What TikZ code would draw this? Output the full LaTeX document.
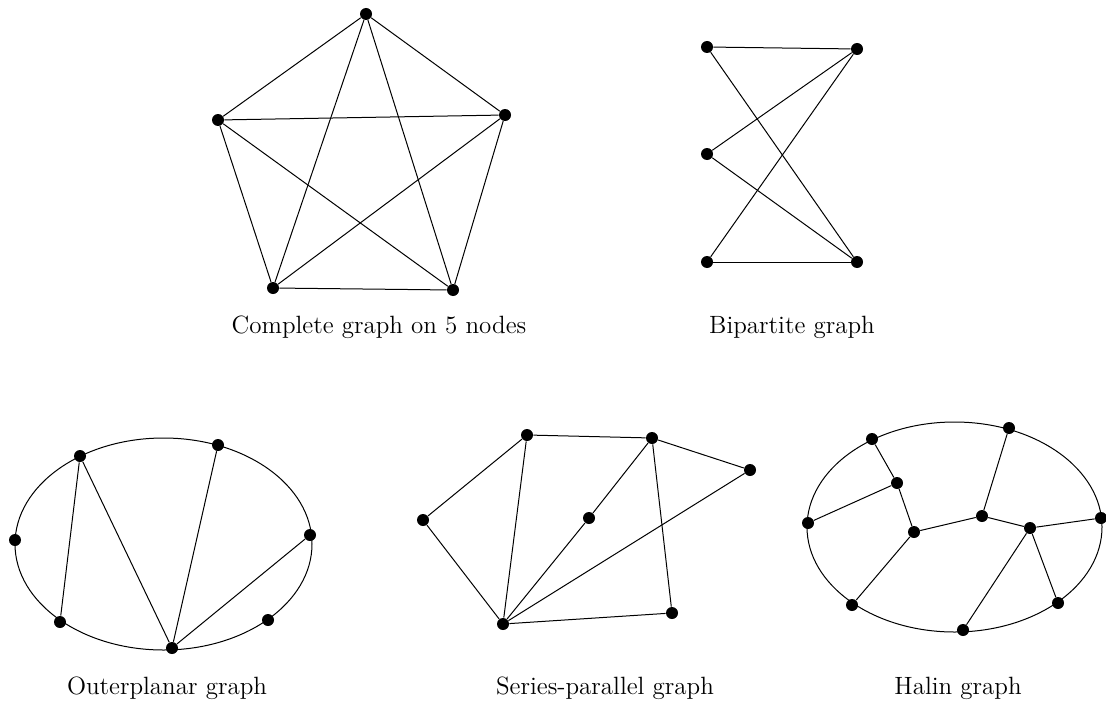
\documentclass[tikz,border=0pt]{standalone}
\usetikzlibrary{positioning}

\begin{document}
\begin{tikzpicture}[
  x=0.5pt, y=-0.5pt,
  vtx/.style={circle, fill=black, inner sep=0pt, minimum size=6pt},
  edg/.style={line width=0.5pt},
  lbl/.style={font=\fontsize{12.5}{14}\selectfont, inner sep=0pt}
]
\useasboundingbox (0,0) rectangle (1106,701);

%% ═══════════════════════════════════════════════
%% Complete graph on 5 nodes
%% ═══════════════════════════════════════════════

\node[vtx] (k_top)   at (366, 14)  {};
\node[vtx] (k_right) at (505,115)  {};
\node[vtx] (k_br)    at (453,290)  {};
\node[vtx] (k_bl)    at (273,288)  {};
\node[vtx] (k_left)  at (218,120)  {};

% K5 edges
\foreach \a/\b in {k_top/k_right, k_top/k_br, k_top/k_bl, k_top/k_left,
                   k_right/k_br, k_right/k_bl, k_right/k_left,
                   k_br/k_bl, k_br/k_left, k_bl/k_left}
  \draw[edg] (\a) -- (\b);

\node[lbl] (k_lbl) at (379,327) {Complete graph on 5 nodes};

%% ═══════════════════════════════════════════════
%% Bipartite graph
%% ═══════════════════════════════════════════════

\node[vtx] (b_l1) at (707, 47)  {};
\node[vtx] (b_l2) at (707,154)  {};
\node[vtx] (b_l3) at (707,262)  {};
\node[vtx] (b_r1) at (857, 49)  {};
\node[vtx] (b_r2) at (857,262)  {};

% Bipartite edges
\foreach \l in {b_l1, b_l2, b_l3}
  \foreach \r in {b_r1, b_r2}
    \draw[edg] (\l) -- (\r);

\node[lbl] (b_lbl) at (792,327) {Bipartite graph};

%% ═══════════════════════════════════════════════
%% Outerplanar graph
%% ═══════════════════════════════════════════════

\draw[edg] (163.5,544) ellipse [x radius=148.5, y radius=106];

\node[vtx] (o_tl)  at ( 80,456)  {};
\node[vtx] (o_top) at (218,445)  {};
\node[vtx] (o_r)   at (310,535)  {};
\node[vtx] (o_br)  at (268,620)  {};
\node[vtx] (o_bot) at (172,648)  {};
\node[vtx] (o_bl)  at ( 60,622)  {};
\node[vtx] (o_l)   at ( 15,540)  {};

% Outerplanar chords
\draw[edg] (o_tl)  -- (o_bl);
\draw[edg] (o_tl)  -- (o_bot);
\draw[edg] (o_top) -- (o_bot);
\draw[edg] (o_r)   -- (o_bot);

\node[lbl] (o_lbl) at (167,688) {Outerplanar graph};

%% ═══════════════════════════════════════════════
%% Series-parallel graph
%% ═══════════════════════════════════════════════

\node[vtx] (s_a) at (527,435)  {};
\node[vtx] (s_b) at (652,438)  {};
\node[vtx] (s_c) at (750,470)  {};
\node[vtx] (s_d) at (423,520)  {};
\node[vtx] (s_e) at (589,518)  {};
\node[vtx] (s_f) at (503,624)  {};
\node[vtx] (s_g) at (672,613)  {};

% Series-parallel edges
\foreach \a/\b in {s_d/s_a, s_a/s_b, s_b/s_c, s_a/s_f, s_d/s_f,
                   s_e/s_b, s_e/s_f, s_c/s_f, s_b/s_g, s_g/s_f}
  \draw[edg] (\a) -- (\b);

\node[lbl] (s_lbl) at (605,688) {Series-parallel graph};

%% ═══════════════════════════════════════════════
%% Halin graph
%% ═══════════════════════════════════════════════

\draw[edg] (954.5,527) ellipse [x radius=147.5, y radius=105];

\node[vtx] (h_a) at ( 872,439)  {};
\node[vtx] (h_b) at (1009,428)  {};
\node[vtx] (h_c) at ( 897,483)  {};
\node[vtx] (h_d) at ( 808,523)  {};
\node[vtx] (h_e) at ( 914,532)  {};
\node[vtx] (h_f) at ( 982,516)  {};
\node[vtx] (h_g) at (1030,528)  {};
\node[vtx] (h_h) at (1101,518)  {};
\node[vtx] (h_i) at ( 852,605)  {};
\node[vtx] (h_j) at ( 963,630)  {};
\node[vtx] (h_k) at (1058,603)  {};

% Halin tree edges
\foreach \a/\b in {h_a/h_c, h_c/h_d, h_c/h_e, h_e/h_i, h_e/h_f,
                   h_f/h_b, h_f/h_g, h_g/h_h, h_g/h_j, h_g/h_k}
  \draw[edg] (\a) -- (\b);

\node[lbl] (h_lbl) at (958,688) {Halin graph};

\end{tikzpicture}
\end{document}
